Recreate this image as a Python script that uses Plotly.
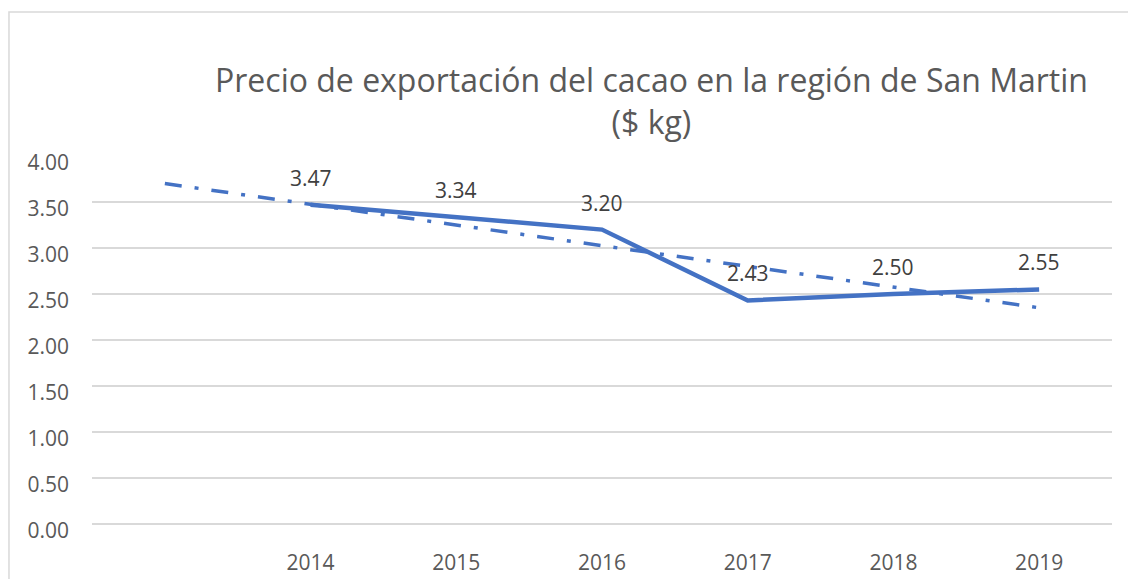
import plotly.graph_objects as go

# Data
years = ["", "2014", "2015", "2016", "2017", "2018", "2019"]
prices = [None, 3.47, 3.34, 3.20, 2.43, 2.50, 2.55]
label_text = ["", "3.47", "3.34", "3.20", "2.43", "2.50", "2.55"]
trend_years = ["", "2019"]
trend_values = [3.70, 2.35]
y_ticks = [0, 0.5, 1.0, 1.5, 2.0, 2.5, 3.0, 3.5, 4.0]
y_tick_text = ["0.00", "0.50", "1.00", "1.50", "2.00", "2.50", "3.00", "3.50", "4.00"]

title_text = "Precio de exportación del cacao en la región de San Martin<br>($ kg)"

FONT = "Open Sans"
TXT = "#595959"
BLUE = "#4472C4"
GRID = "#d9d9d9"

xpos = list(range(len(years)))
trend_x = [years.index(t) for t in trend_years]

fig = go.Figure()
fig.add_trace(go.Scatter(
    x=trend_x, y=trend_values, mode="lines",
    line=dict(color=BLUE, width=3.5, dash="17px,13px,4px,13px"),
    hoverinfo="skip", showlegend=False,
))
fig.add_trace(go.Scatter(
    x=xpos, y=prices, mode="lines",
    line=dict(color=BLUE, width=4.5),
    showlegend=False,
))

for xi, v, t in zip(xpos, prices, label_text):
    if v is None:
        continue
    fig.add_annotation(
        x=xi, y=v, text=t, showarrow=False, xref="x", yref="y",
        yanchor="bottom", yshift=11,
        font=dict(family=FONT, size=21, color="#404040"),
    )

fig.add_annotation(
    x=0.549, y=1.1495, xref="paper", yref="paper",
    text=title_text, showarrow=False, xanchor="center", yanchor="middle",
    font=dict(family=FONT, size=32, color=TXT),
)

fig.add_shape(
    type="rect", xref="paper", yref="paper",
    x0=-0.0814, x1=1.1, y0=-0.3, y1=1.3913,
    line=dict(color=GRID, width=1.5), layer="below",
)

fig.update_layout(
    width=1128, height=579,
    margin=dict(l=92, r=16, t=156, b=55, autoexpand=False),
    paper_bgcolor="white", plot_bgcolor="white",
    xaxis=dict(
        range=[-0.5, len(years) - 0.5],
        tickmode="array", tickvals=xpos[1:], ticktext=years[1:],
        showgrid=False, zeroline=False, showline=False,
        ticks="", ticklabelstandoff=24, automargin=False,
        tickfont=dict(family=FONT, size=21, color=TXT),
        fixedrange=True,
    ),
    yaxis=dict(
        range=[0, 4],
        tickmode="array", tickvals=y_ticks, ticktext=y_tick_text,
        showgrid=True, gridcolor=GRID, gridwidth=1.5,
        zeroline=True, zerolinecolor=GRID, zerolinewidth=1.5,
        showline=False, automargin=False,
        ticks="", ticklabelstandoff=22, ticklabelshift=7,
        tickfont=dict(family=FONT, size=21, color=TXT),
        fixedrange=True,
    ),
)

fig.write_html(
    "out.html",
    config={"displayModeBar": False},
    post_script="document.body.style.margin='0';document.body.style.overflow='hidden';",
)
